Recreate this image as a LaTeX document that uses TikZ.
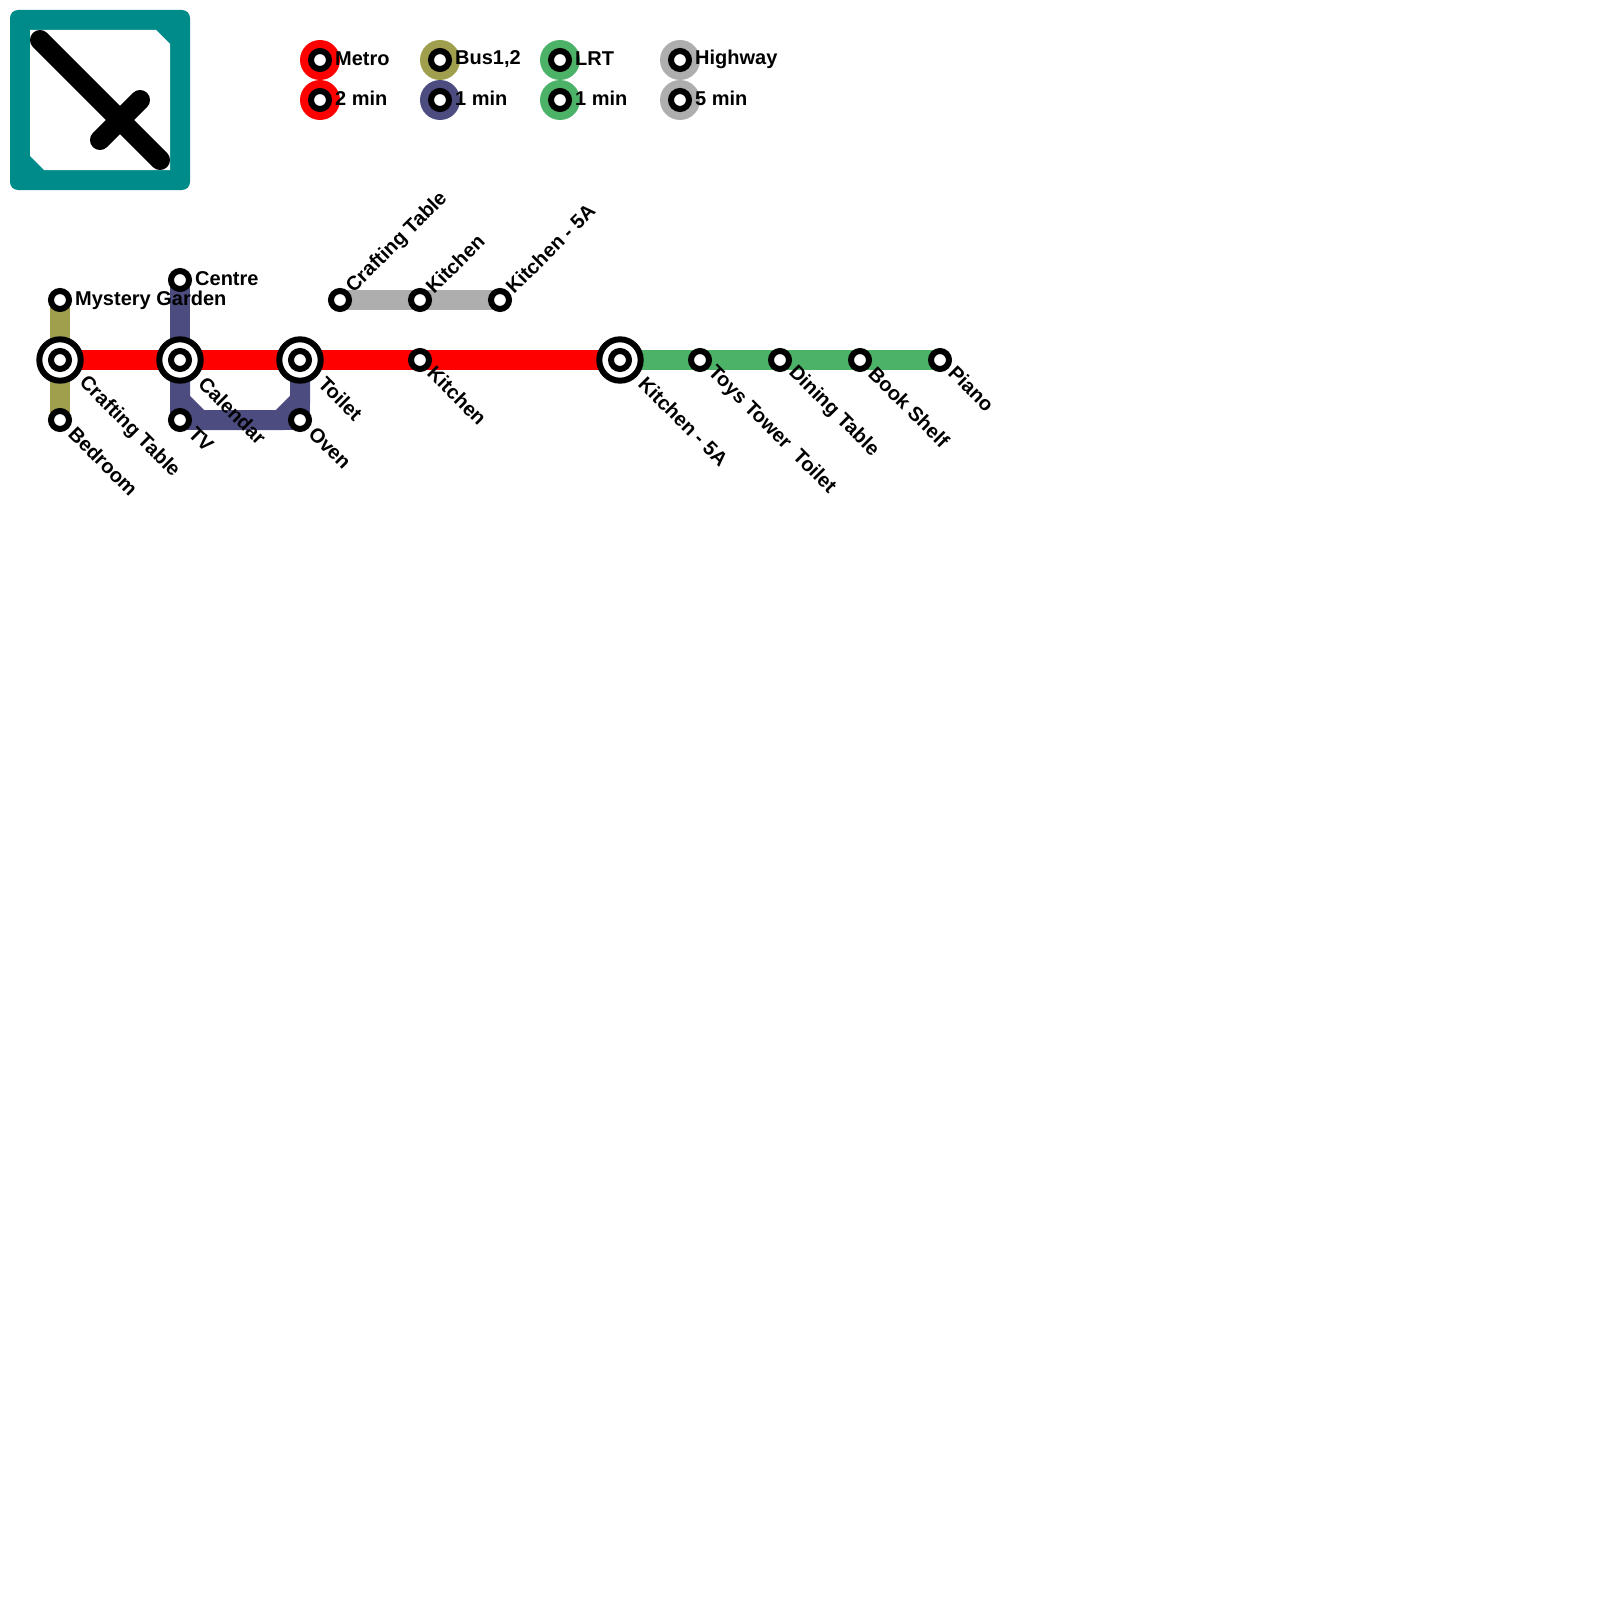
\documentclass[tikz,border=0pt]{standalone}
\usepackage{fontspec}
\setmainfont{Liberation Sans}
\usetikzlibrary{backgrounds}
\definecolor{metrored}{HTML}{FF0000}
\definecolor{busolive}{HTML}{A09F4E}
\definecolor{busnavy}{HTML}{4D4C80}
\definecolor{lrtgreen}{HTML}{4CB268}
\definecolor{roadgrey}{HTML}{AEAEAE}
\definecolor{logoteal}{HTML}{008B8B}
\tikzset{
  stn/.style    = {circle, draw=black, line width=6pt, fill=white,
                   minimum size=18pt, inner sep=0pt},
  bigstn/.style = {stn, minimum size=41.4pt},
  keydot/.style = {circle, minimum size=40pt, inner sep=0pt},
  railway/.style = {line width=20pt, line join=miter},
  tag/.style    = {font=\fontsize{20}{24}\bfseries\selectfont, inner sep=0pt, anchor=west},
  tagdown/.style = {tag, rotate=-45},
  tagup/.style  = {tag, rotate=45},
  logoline/.style = {line width=20pt, line cap=round, draw=black},
}

\begin{document}
\begin{tikzpicture}[x=1pt, y=-1pt]
    \useasboundingbox (0,0) rectangle (1600,1600);

    % logo
    \fill[logoteal, rounded corners=8pt] (10,10) rectangle (190,190);
    \fill[white] (30,30) -- (156,30) -- (170,44) -- (170,170) -- (44,170) -- (30,156) -- cycle;
    \draw[logoline] (40,40) -- (160,160);
    \draw[logoline] (100,140) -- (140,100);

    % key
    \foreach \col/\nm/\xx/\yy/\ty/\txt in {metrored/ka/320/60/59/Metro, metrored/kb/320/100/98/2 min,
        busolive/kc/440/60/59/{Bus1,2}, busnavy/kd/440/100/98/1 min,
        lrtgreen/ke/560/60/59/LRT, lrtgreen/kf/560/100/98/1 min,
        roadgrey/kg/680/60/59/Highway, roadgrey/kh/680/100/98/5 min}
      {\node[keydot, fill=\col] (\nm) at (\xx,\yy) {};
       \node[stn] (\nm s) at (\xx,\yy) {};
       \node[tag] (\nm t) at (\xx+15,\ty) {\txt};}

    % stations
    \node[stn] (garden) at (60,300) {};
    \node[bigstn] (craft) at (60,360) {};
    \node[stn] (craftin) at (60,360) {};
    \node[stn] (bedroom) at (60,420) {};
    \node[stn] (centre) at (180,280) {};
    \node[bigstn] (calendar) at (180,360) {};
    \node[stn] (calendarin) at (180,360) {};
    \node[stn] (tv) at (180,420) {};
    \node[bigstn] (toilet) at (300,360) {};
    \node[stn] (toiletin) at (300,360) {};
    \node[stn] (oven) at (300,420) {};
    \node[stn] (kitchen) at (420,360) {};
    \node[bigstn] (fivea) at (620,360) {};
    \node[stn] (fivein) at (620,360) {};
    \node[stn] (toys) at (700,360) {};
    \node[stn] (dining) at (780,360) {};
    \node[stn] (shelf) at (860,360) {};
    \node[stn] (piano) at (940,360) {};
    \node[stn] (hcraft) at (340,300) {};
    \node[stn] (hkitchen) at (420,300) {};
    \node[stn] (hfive) at (500,300) {};

    % lines
    \begin{pgfonlayer}{background}
      \draw[railway, busolive] (garden.center) -- (bedroom.center);
      \draw[railway, busnavy] (centre.center) -- (tv.center);
      \draw[railway, busnavy] (calendar.center) -- (180,400) -- (200,420) -- (280,420) -- (300,400) -- (toilet.center);
      \draw[railway, busnavy] (tv.center) -- (oven.center);
      \draw[railway, busnavy] (oven.center) -- (toilet.center);
      \draw[railway, metrored] (craft.center) -- (fivea.center);
      \draw[railway, lrtgreen] (fivea.center) -- (piano.center);
      \draw[railway, roadgrey] (hcraft.center) -- (hfive.center);
    \end{pgfonlayer}

    % labels
    \node[tag] (tgarden) at (75,300) {Mystery Garden};
    \node[tag] (tcentre) at (195,278.5) {Centre};
    \node[tagdown] (tcraft) at (82,380) {Crafting Table};
    \node[tagdown] (tbedroom) at (72,430) {Bedroom};
    \node[tagdown] (tcalendar) at (202,380) {Calendar};
    \node[tagdown] (ttv) at (192,430) {TV};
    \node[tagdown] (ttoilet) at (322,380) {Toilet};
    \node[tagdown] (toven) at (312,430) {Oven};
    \node[tagdown] (tkitchen) at (431,369.5) {Kitchen};
    \node[tagdown] (tfivea) at (642,380) {Kitchen - 5A};
    \node[tagdown] (ttoys) at (711,369.5) {Toys Tower\ \ Toilet};
    \node[tagdown] (tdining) at (791.5,369.5) {Dining Table};
    \node[tagdown] (tshelf) at (872,370) {Book Shelf};
    \node[tagdown] (tpiano) at (952,369) {Piano};
    \node[tagup] (thcraft) at (350,290) {Crafting Table};
    \node[tagup] (thkitchen) at (429,290) {Kitchen};
    \node[tagup] (thfive) at (509,290) {Kitchen - 5A};
\end{tikzpicture}
\end{document}
